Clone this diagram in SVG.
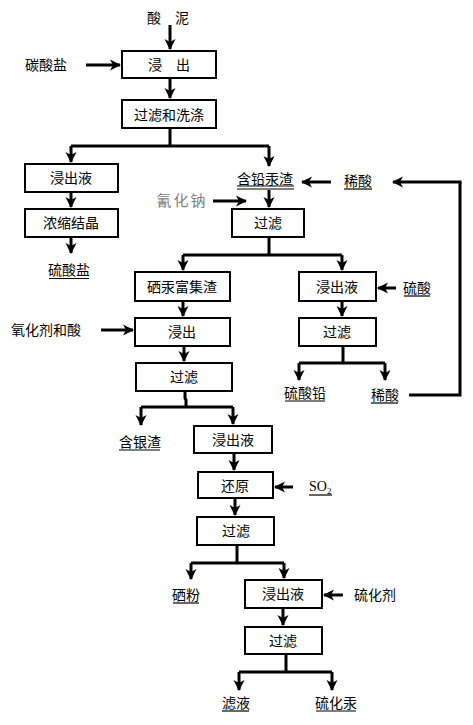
<svg xmlns="http://www.w3.org/2000/svg" width="473" height="725" viewBox="0 0 473 725">
<defs>
<marker id="ah" markerUnits="userSpaceOnUse" markerWidth="12" markerHeight="12" refX="10" refY="6" orient="auto" viewBox="0 0 12 12">
<path d="M0,0.5 L11,6 L0,11.5 L3,6 Z" fill="#000"/>
</marker>
<style>
.box{fill:#fff;stroke:#000;stroke-width:2}
.t{font-family:"Noto Sans CJK SC","Liberation Sans",sans-serif;font-size:14px;fill:#000;text-anchor:middle}
.ul{stroke:#000;stroke-width:1.2}
.c{fill:none;stroke:#000;stroke-width:3}
.a{fill:none;stroke:#000;stroke-width:3;marker-end:url(#ah)}
</style>
</defs>
<rect width="473" height="725" fill="#fff"/>

<g id="connectors">
<path class="a" d="M170,25 V49"/>
<path class="a" d="M86,65 H120"/>
<path class="a" d="M170,78 V98"/>
<path class="c" d="M170,128 V146 M71,146 H269"/>
<path class="a" d="M71,146 V162"/>
<path class="a" d="M269,146 V166"/>
<path class="a" d="M71,192 V207"/>
<path class="a" d="M71,237 V253"/>
<path class="a" d="M331,182 H302"/>
<path class="c" d="M409,395 H460 V182"/>
<path class="a" d="M461.5,182 H393"/>
<path class="a" d="M213,201 H246"/>
<path class="a" d="M269,190 V207"/>
<path class="c" d="M269,237 V255 M183,255 H342"/>
<path class="a" d="M183,255 V270"/>
<path class="a" d="M342,255 V270"/>
<path class="a" d="M396,288 H378"/>
<path class="a" d="M342,301 V316"/>
<path class="c" d="M343,346 V363 M299,363 H385"/>
<path class="a" d="M299,363 V380"/>
<path class="a" d="M385,363 V380"/>
<path class="a" d="M183,301 V316"/>
<path class="a" d="M101,330 H133"/>
<path class="a" d="M184,346 V361"/>
<path class="c" d="M185,391 V398 L186,400 V407 M141,407 H233"/>
<path class="a" d="M141,407 V425"/>
<path class="a" d="M233,407 V424"/>
<path class="a" d="M234,453 V470"/>
<path class="a" d="M293,487 H275"/>
<path class="a" d="M235,498 V515"/>
<path class="c" d="M237,545 V563 M191,563 H284"/>
<path class="a" d="M191,563 V579"/>
<path class="a" d="M284,563 V578"/>
<path class="a" d="M343,595 H324"/>
<path class="a" d="M283,608 V625"/>
<path class="c" d="M286,654 V672 M239,672 H332"/>
<path class="a" d="M239,672 V690"/>
<path class="a" d="M332,672 V690"/>
</g>

<g id="n-acid-mud"><text class="t" x="168" y="23">酸　泥</text></g>
<g id="n-carbonate"><text class="t" x="46" y="70">碳酸盐</text></g>
<g id="n-leach1"><rect class="box" x="122" y="51" width="94" height="27"/><text class="t" x="169" y="70">浸　出</text></g>
<g id="n-filterwash"><rect class="box" x="122" y="100" width="94" height="28"/><text class="t" x="169" y="120">过滤和洗涤</text></g>
<g id="n-leachate1"><rect class="box" x="25" y="164" width="93" height="28"/><text class="t" x="71" y="183">浸出液</text></g>
<g id="n-concentrate"><rect class="box" x="25" y="209" width="93" height="28"/><text class="t" x="71" y="228">浓缩结晶</text></g>
<g id="n-sulfate"><text class="t" x="69" y="275">硫酸盐</text><line class="ul" x1="49" y1="278.5" x2="89" y2="278.5"/></g>
<g id="n-pbhg-residue"><text class="t" x="265" y="184">含铅汞渣</text><line class="ul" x1="237" y1="186" x2="294" y2="186"/><line class="ul" x1="237" y1="189" x2="294" y2="189"/></g>
<g id="n-dilute-acid1"><text class="t" x="358" y="186">稀酸</text><line class="ul" x1="344" y1="189" x2="372" y2="189"/></g>
<g id="n-nacn"><text class="t" x="182" y="206" style="fill:#808080;font-size:15px;letter-spacing:2px">氰化钠</text></g>
<g id="n-filter1"><rect class="box" x="232" y="209" width="72" height="28"/><text class="t" x="268" y="228">过滤</text></g>
<g id="n-sehg"><rect class="box" x="135" y="272" width="95" height="29"/><text class="t" x="182" y="292">硒汞富集渣</text></g>
<g id="n-leachate2"><rect class="box" x="299" y="272" width="77" height="29"/><text class="t" x="337" y="292">浸出液</text></g>
<g id="n-h2so4"><text class="t" x="417" y="293">硫酸</text><line class="ul" x1="404" y1="296" x2="430" y2="296"/></g>
<g id="n-oxidant"><text class="t" x="46" y="335">氧化剂和酸</text></g>
<g id="n-leach2"><rect class="box" x="135" y="318" width="95" height="28"/><text class="t" x="182" y="337">浸出</text></g>
<g id="n-filter2"><rect class="box" x="299" y="318" width="77" height="28"/><text class="t" x="337" y="337">过滤</text></g>
<g id="n-filter3"><rect class="box" x="136" y="363" width="96" height="28"/><text class="t" x="184" y="382">过滤</text></g>
<g id="n-pbso4"><text class="t" x="305" y="398">硫酸铅</text><line class="ul" x1="285" y1="401" x2="325" y2="401"/></g>
<g id="n-dilute-acid2"><text class="t" x="385" y="400">稀酸</text><line class="ul" x1="371" y1="403" x2="398" y2="403"/></g>
<g id="n-ag-residue"><text class="t" x="140" y="447">含银渣</text><line class="ul" x1="119" y1="450" x2="160" y2="450"/></g>
<g id="n-leachate3"><rect class="box" x="194" y="426" width="78" height="27"/><text class="t" x="233" y="445">浸出液</text></g>
<g id="n-reduce"><rect class="box" x="198" y="472" width="75" height="26"/><text class="t" x="235" y="491">还原</text></g>
<g id="n-so2"><text x="309" y="491" style="font-family:'Liberation Serif',serif;font-size:14px">SO<tspan font-size="9" dy="3">2</tspan></text><line class="ul" x1="309" y1="495" x2="332" y2="495"/></g>
<g id="n-filter4"><rect class="box" x="197" y="517" width="77" height="28"/><text class="t" x="236" y="536">过滤</text></g>
<g id="n-se-powder"><text class="t" x="186" y="600">硒粉</text><line class="ul" x1="173" y1="603" x2="199" y2="603"/></g>
<g id="n-leachate4"><rect class="box" x="245" y="580" width="77" height="28"/><text class="t" x="283" y="599">浸出液</text></g>
<g id="n-sulfidizer"><text class="t" x="375" y="600">硫化剂</text></g>
<g id="n-filter5"><rect class="box" x="245" y="627" width="77" height="27"/><text class="t" x="283" y="646">过滤</text></g>
<g id="n-filtrate"><text class="t" x="236" y="708">滤液</text><line class="ul" x1="222" y1="711" x2="249" y2="711"/></g>
<g id="n-hgs"><text class="t" x="336" y="708">硫化汞</text><line class="ul" x1="316" y1="711" x2="356" y2="711"/></g>
</svg>
